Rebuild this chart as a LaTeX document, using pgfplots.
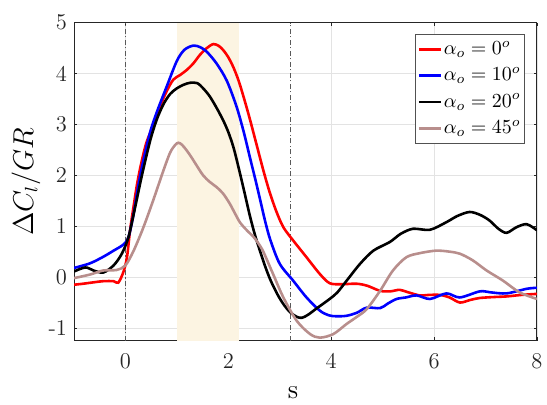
\documentclass[border=0pt]{standalone}
\usepackage{pgfplots}
\pgfplotsset{compat=1.18}
\definecolor{shade}{RGB}{252,244,226}
\definecolor{rbrown}{RGB}{184,142,140}
\definecolor{axgray}{RGB}{38,38,38}
\begin{document}
\begin{tikzpicture}
\path[use as bounding box] (-37bp,-32.15bp) rectangle (236.5bp,170.35bp);
\begin{axis}[
  scale only axis,
  width=231.5bp, height=159bp,
  xmin=-1, xmax=8, ymin=-1.25, ymax=5,
  xtick={0,2,4,6,8},
  ytick={-1,0,1,2,3,4,5},
  yticklabels={-1,0,1,2,3,4,5},
  xticklabels={0,2,4,6,8},
  tick align=inside,
  major tick length=1.7bp,
  tick style={axgray, line width=0.4pt},
  axis line style={axgray, line width=0.5pt},
  grid=major,
  major grid style={gray!22, line width=0.4pt},
  ticklabel style={font=\fontsize{11.3}{13}\selectfont, text=axgray},
  xticklabel style={anchor=base, yshift=-13.8bp},
  xlabel={s},
  ylabel={$\Delta C_l/GR$},
  label style={font=\fontsize{13.5}{15}\selectfont},
  xlabel style={at={(axis description cs:0.473,0)}, anchor=base, yshift=-28.8bp},
  ylabel style={at={(axis description cs:-0.104,0.5)}, anchor=center, rotate=0},
  legend style={at={(axis description cs:1,1)}, anchor=north east, xshift=-5.85bp, yshift=-5.5bp,
    draw=axgray!80, line width=0.5pt, font=\fontsize{10.4}{12}\selectfont,
    inner xsep=1pt, inner ysep=1.5pt, row sep=1.1bp,
    nodes={inner xsep=1pt}},
  legend cell align=left,
  legend image code/.code={\draw[#1, line width=1.3pt] (0bp,0bp) -- (10.8bp,0bp);},
  every axis plot/.append style={line width=1.3pt},
]
\addplot[fill=shade, draw=none, forget plot, line width=0pt] coordinates {(1,-1.25) (2.2,-1.25) (2.2,5) (1,5)} -- cycle;
\addplot[gray!70!black, dash pattern=on 2.5pt off 1.2pt on 0.6pt off 1.2pt, line width=0.5pt, forget plot] coordinates {(0,-1.25) (0,5)};
\addplot[gray!70!black, dash pattern=on 2.5pt off 1.2pt on 0.6pt off 1.2pt, line width=0.5pt, forget plot] coordinates {(3.21,-1.25) (3.21,5)};

\addplot[red, smooth] coordinates {
(-1,-0.15) (-0.82,-0.13) (-0.6,-0.1) (-0.43,-0.08) (-0.23,-0.08) (-0.14,-0.11) (-0.04,0.10) (0.03,0.39) (0.09,0.92) (0.16,1.40) (0.23,1.85) (0.31,2.25) (0.41,2.65) (0.54,2.98) (0.67,3.35) (0.8,3.65) (0.93,3.88) (1.06,3.97) (1.19,4.07) (1.32,4.2) (1.45,4.37) (1.58,4.5) (1.71,4.58) (1.82,4.54) (1.91,4.45) (2.0,4.32) (2.1,4.12) (2.2,3.86) (2.3,3.53) (2.42,3.1) (2.55,2.6) (2.68,2.1) (2.8,1.68) (2.93,1.3) (3.07,0.98) (3.26,0.72) (3.52,0.39) (3.78,0.06) (3.97,-0.12) (4.2,-0.14) (4.49,-0.13) (4.7,-0.17) (4.95,-0.27) (5.15,-0.28) (5.33,-0.25) (5.5,-0.3) (5.72,-0.36) (5.9,-0.35) (6.11,-0.35) (6.3,-0.4) (6.5,-0.5) (6.7,-0.45) (6.89,-0.41) (7.2,-0.39) (7.41,-0.38) (7.7,-0.35) (8,-0.33)};
\addlegendentry{$\alpha_o = 0^o$}

\addplot[blue, smooth] coordinates {
(-1,0.18) (-0.69,0.27) (-0.43,0.40) (-0.23,0.52) (-0.04,0.64) (0.06,0.79) (0.16,1.25) (0.25,1.80) (0.35,2.3) (0.48,2.85) (0.62,3.27) (0.8,3.74) (1.0,4.25) (1.15,4.47) (1.32,4.55) (1.45,4.52) (1.58,4.43) (1.77,4.2) (1.97,3.86) (2.16,3.35) (2.3,2.85) (2.42,2.35) (2.53,1.9) (2.63,1.47) (2.72,1.08) (2.82,0.72) (3.0,0.26) (3.26,-0.07) (3.52,-0.40) (3.78,-0.66) (3.95,-0.75) (4.1,-0.77) (4.3,-0.76) (4.5,-0.7) (4.69,-0.60) (4.95,-0.61) (5.1,-0.52) (5.27,-0.43) (5.45,-0.4) (5.66,-0.36) (5.92,-0.43) (6.24,-0.32) (6.5,-0.40) (6.89,-0.28) (7.1,-0.3) (7.41,-0.32) (7.8,-0.23) (8,-0.21)};
\addlegendentry{$\alpha_o = 10^o$}

\addplot[black, smooth] coordinates {
(-1,0.11) (-0.78,0.19) (-0.62,0.13) (-0.43,0.09) (-0.23,0.23) (-0.07,0.46) (0.06,0.79) (0.19,1.38) (0.32,2.0) (0.48,2.68) (0.61,3.1) (0.74,3.4) (0.87,3.6) (1.0,3.71) (1.13,3.78) (1.26,3.82) (1.4,3.81) (1.52,3.7) (1.64,3.55) (1.77,3.33) (1.9,3.08) (2.0,2.85) (2.1,2.55) (2.2,2.15) (2.31,1.68) (2.42,1.2) (2.52,0.82) (2.62,0.5) (2.72,0.2) (2.82,-0.06) (2.95,-0.33) (3.07,-0.53) (3.2,-0.69) (3.33,-0.78) (3.43,-0.80) (3.55,-0.74) (3.71,-0.62) (3.97,-0.43) (4.12,-0.3) (4.3,-0.07) (4.56,0.26) (4.82,0.52) (5.14,0.69) (5.35,0.85) (5.59,0.95) (5.92,0.93) (6.24,1.08) (6.45,1.2) (6.69,1.28) (6.9,1.22) (7.08,1.11) (7.25,0.95) (7.41,0.87) (7.6,0.98) (7.8,1.04) (8,0.92)};
\addlegendentry{$\alpha_o = 20^o$}

\addplot[rbrown, smooth] coordinates {
(-1,-0.02) (-0.69,0.05) (-0.43,0.13) (-0.17,0.14) (0,0.23) (0.16,0.52) (0.35,0.98) (0.54,1.51) (0.74,2.10) (0.87,2.45) (0.97,2.6) (1.03,2.64) (1.1,2.6) (1.19,2.49) (1.28,2.36) (1.38,2.2) (1.51,2.0) (1.64,1.87) (1.77,1.77) (1.9,1.64) (2.03,1.44) (2.13,1.25) (2.23,1.07) (2.36,0.92) (2.49,0.79) (2.58,0.67) (2.68,0.5) (2.87,0.06) (3.07,-0.40) (3.33,-0.86) (3.59,-1.12) (3.78,-1.19) (4.04,-1.12) (4.30,-0.92) (4.50,-0.78) (4.69,-0.63) (4.95,-0.27) (5.20,0.13) (5.46,0.39) (5.72,0.47) (6.04,0.52) (6.3,0.5) (6.5,0.46) (6.75,0.33) (7.02,0.13) (7.34,-0.07) (7.66,-0.30) (8,-0.43)};
\addlegendentry{$\alpha_o = 45^o$}
\end{axis}
\end{tikzpicture}
\end{document}
